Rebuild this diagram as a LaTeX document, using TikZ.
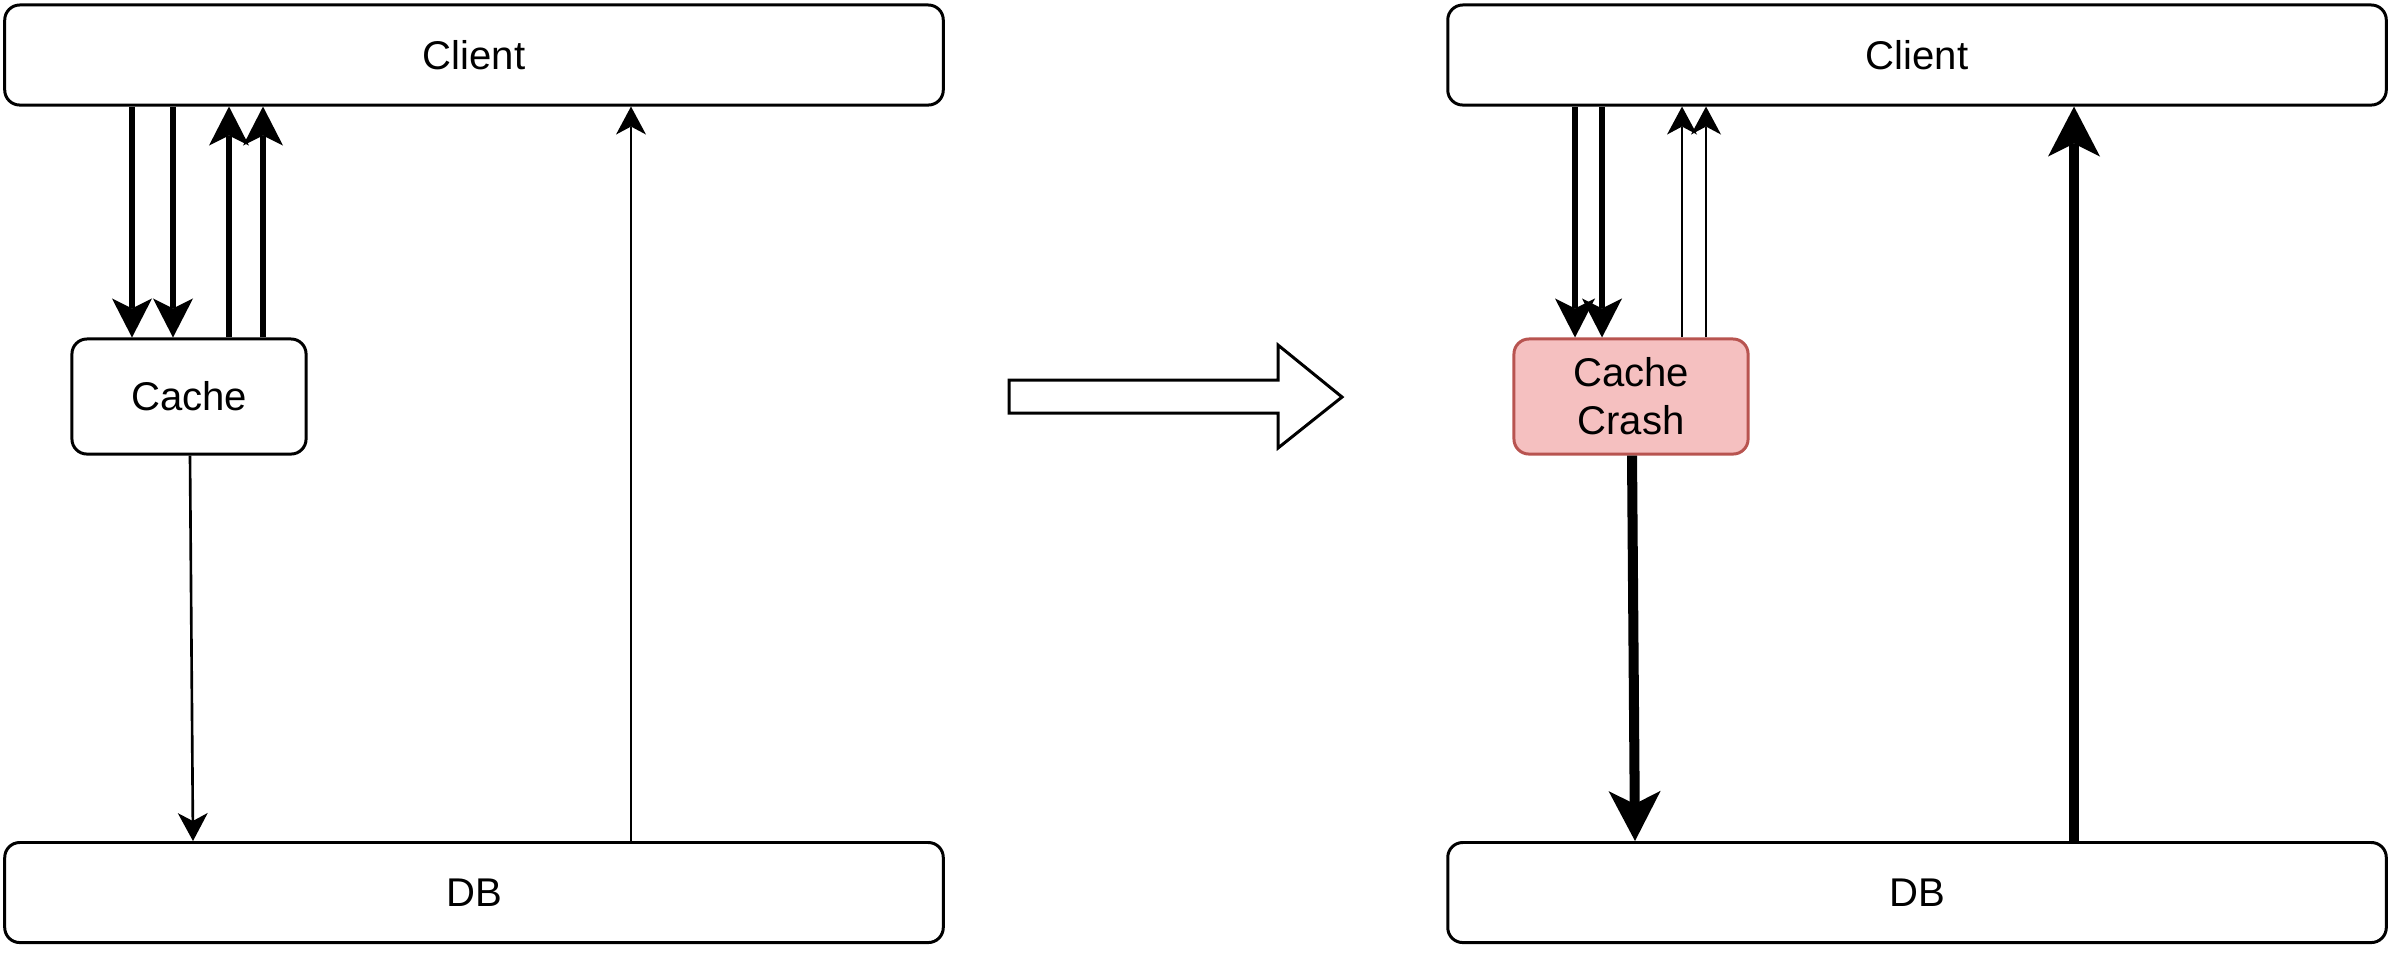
\documentclass[tikz,border=0pt]{standalone}
\usepackage{fontspec}
\setmainfont{Liberation Sans}
\usepackage{xcolor}
\usetikzlibrary{arrows.meta}
\definecolor{crashfill}{HTML}{F5C0C0}
\definecolor{crashline}{HTML}{B85450}

\begin{document}
\begin{tikzpicture}[x=0.01cm, y=-0.01cm,
    box/.style={draw, line width=0.85pt, rounded corners=0.15cm, fill=white,
      font=\fontsize{11.4pt}{13.7pt}\selectfont, align=center, inner sep=0pt},
    wide/.style={box, minimum width=9.38cm, minimum height=1.0cm},
    small/.style={box, minimum width=2.34cm, minimum height=1.15cm},
    thin/.style={line width=0.75pt, -{Stealth[length=0.28cm, width=0.3cm, inset=0.08cm, line width=0pt]}},
    bold/.style={line width=1.85pt, -{Stealth[length=0.39cm, width=0.4cm, inset=0.1cm, line width=0pt]}},
    heavy/.style={line width=2.85pt, -{Stealth[length=0.5cm, width=0.52cm, inset=0.13cm, line width=0pt]}}]
      \useasboundingbox (0,0) rectangle (2398,956);

      % before
      \node[wide] (clientL) at (474,55) {Client};
      \node[wide] (dbL) at (474,892.5) {DB};
      \node[small] (cacheL) at (189,396.5) {Cache};
      \foreach \x in {132,173}
        \draw[bold] (clientL.south -| \x,0) -- (cacheL.north -| \x,0);
      \foreach \x in {229,263}
        \draw[bold] (cacheL.north -| \x,0) -- (clientL.south -| \x,0);
      \draw[thin] (cacheL.south -| 190,0) -- (dbL.north -| 193,0);
      \draw[thin] (dbL.north -| 631,0) -- (clientL.south -| 631,0);

      % transition
      \draw[line width=0.85pt, fill=white] (1009,380) -- (1278,380) -- (1278,345) -- (1342,397)
        -- (1278,448) -- (1278,413) -- (1009,413) -- cycle;

      % after
      \node[wide] (clientR) at (1917,55) {Client};
      \node[wide] (dbR) at (1917,892.5) {DB};
      \node[small, fill=crashfill, draw=crashline] (crash) at (1631,396.5) {Cache\\Crash};
      \foreach \x in {1575,1602}
        \draw[bold] (clientR.south -| \x,0) -- (crash.north -| \x,0);
      \foreach \x in {1682,1706}
        \draw[thin] (crash.north -| \x,0) -- (clientR.south -| \x,0);
      \draw[heavy] (crash.south -| 1632,0) -- (dbR.north -| 1635,0);
      \draw[heavy] (dbR.north -| 2074,0) -- (clientR.south -| 2074,0);
\end{tikzpicture}
\end{document}
